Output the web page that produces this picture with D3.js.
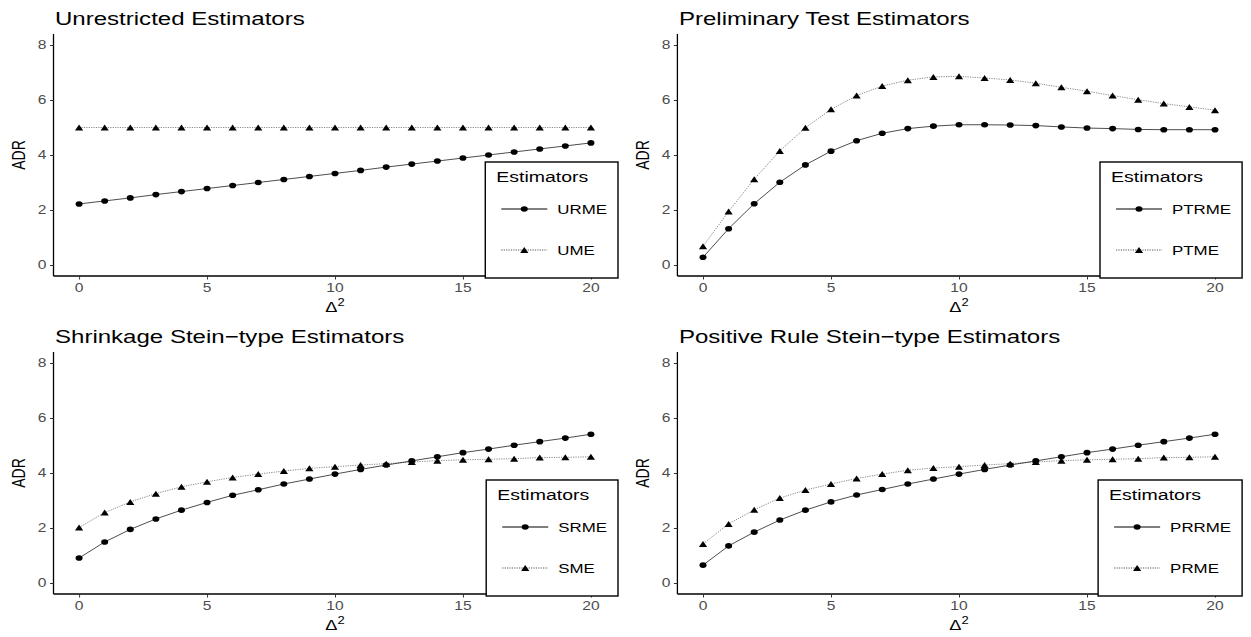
<!DOCTYPE html>
<html>
<head>
<meta charset="utf-8">
<script src="https://cdn.jsdelivr.net/npm/d3@7"></script>
<style>
  body { margin: 0; background: #fff; }
  text { font-family: "Liberation Sans", Arial, Helvetica, sans-serif; }
</style>
</head>
<body>
<svg id="chart" width="1251" height="637"></svg>
<script>
// x values (Delta^2) and axis ticks
var delta = [0, 1, 2, 3, 4, 5, 6, 7, 8, 9, 10, 11, 12, 13, 14, 15, 16, 17, 18, 19, 20];
var xTicks = [0, 5, 10, 15, 20];
var yTicks = [0, 2, 4, 6, 8];

var titles = ['Unrestricted Estimators', 'Preliminary Test Estimators',
              'Shrinkage Stein\u2212type Estimators', 'Positive Rule Stein\u2212type Estimators'];
var seriesNames = [['URME', 'UME'], ['PTRME', 'PTME'], ['SRME', 'SME'], ['PRRME', 'PRME']];

// values
var urme  = [2.22, 2.33, 2.44, 2.56, 2.67, 2.78, 2.89, 3.00, 3.11, 3.22, 3.33, 3.44, 3.56, 3.67, 3.78, 3.89, 4.00, 4.11, 4.22, 4.33, 4.44];
var ume   = [5, 5, 5, 5, 5, 5, 5, 5, 5, 5, 5, 5, 5, 5, 5, 5, 5, 5, 5, 5, 5];
var ptrme = [0.28, 1.32, 2.23, 3.01, 3.64, 4.14, 4.52, 4.79, 4.96, 5.05, 5.10, 5.10, 5.09, 5.07, 5.02, 4.98, 4.96, 4.93, 4.92, 4.92, 4.92];
var ptme  = [0.68, 1.95, 3.12, 4.15, 4.99, 5.66, 6.16, 6.51, 6.72, 6.84, 6.86, 6.80, 6.73, 6.61, 6.46, 6.32, 6.16, 6.01, 5.87, 5.75, 5.63];
var srme  = [0.91, 1.49, 1.95, 2.33, 2.65, 2.93, 3.19, 3.39, 3.60, 3.78, 3.96, 4.13, 4.29, 4.44, 4.59, 4.74, 4.87, 5.01, 5.14, 5.27, 5.41];
var sme   = [2.02, 2.56, 2.95, 3.25, 3.50, 3.68, 3.84, 3.96, 4.07, 4.17, 4.23, 4.29, 4.34, 4.40, 4.45, 4.48, 4.50, 4.52, 4.56, 4.57, 4.59];
var prrme = [0.65, 1.35, 1.85, 2.29, 2.65, 2.95, 3.20, 3.40, 3.60, 3.78, 3.96, 4.13, 4.29, 4.44, 4.59, 4.74, 4.87, 5.01, 5.14, 5.27, 5.41];
var prme  = [1.42, 2.15, 2.66, 3.09, 3.38, 3.60, 3.80, 3.96, 4.10, 4.18, 4.23, 4.29, 4.34, 4.40, 4.45, 4.48, 4.50, 4.52, 4.56, 4.57, 4.59];

var seriesValues = [[urme, ume], [ptrme, ptme], [srme, sme], [prrme, prme]];

var svg = d3.select('#chart');
var SX = 1.3; // the picture is stretched sideways, text too

function place(sel, x, y, extra) {
  return sel.attr('transform', 'translate(' + x + ',' + y + ') scale(' + SX + ',1)' + (extra || ''));
}

var cols = [[53.5, 616.5], [677.4, 1240.6]];
var rows = [[276, 34], [594, 352]];

function triPath(w, h) {
  return 'M0,' + (-h) + 'L' + w + ',' + h + 'L' + (-w) + ',' + h + 'Z';
}

function drawMarker(g, kind, x, y) {
  if (kind == 0) {
    g.append('ellipse').attr('cx', x).attr('cy', y).attr('rx', 3.5).attr('ry', 2.8).attr('fill', '#000');
  } else {
    g.append('path').attr('d', triPath(4.1, 3)).attr('transform', 'translate(' + x + ',' + y + ')').attr('fill', '#000');
  }
}

var lineStyles = [
  { stroke: '#000', width: 0.7, dash: null },
  { stroke: '#555', width: 0.7, dash: '1.2,1.2' }
];

for (var p = 0; p < 4; p++) {
  var cr = cols[p % 2], rr = rows[Math.floor(p / 2)];
  var x = d3.scaleLinear().domain([-1, 21]).range(cr);
  var y = d3.scaleLinear().domain([-0.4, 8.4]).range(rr);
  var g = svg.append('g');

  // title
  place(g.append('text'), cr[0] + 1.5, rr[1] - 9)
    .attr('font-size', 18.5).attr('fill', '#000').text(titles[p]);

  // axes
  var ax = g.append('g').attr('transform', 'translate(0,' + rr[0] + ')')
    .call(d3.axisBottom(x).tickValues(xTicks).tickSize(3.5).tickFormat(''));
  var ay = g.append('g').attr('transform', 'translate(' + cr[0] + ',0)')
    .call(d3.axisLeft(y).tickValues(yTicks).tickSize(3.5).tickFormat(''));
  [ax, ay].forEach(function (a) {
    a.select('.domain').attr('stroke', '#000').attr('stroke-width', 1.3);
    a.selectAll('.tick line').attr('stroke', '#333').attr('stroke-width', 1);
  });
  ax.select('.domain').attr('d', 'M' + cr[0] + ',0H' + cr[1]);
  ay.select('.domain').attr('d', 'M0,' + rr[0] + 'V' + rr[1]);

  xTicks.forEach(function (t) {
    place(g.append('text'), x(t), rr[0] + 15.5)
      .attr('text-anchor', 'middle').attr('font-size', 12).attr('fill', '#4d4d4d').text(t);
  });
  yTicks.forEach(function (t) {
    place(g.append('text'), cr[0] - 7, y(t) + 4.2)
      .attr('text-anchor', 'end').attr('font-size', 12).attr('fill', '#4d4d4d').text(t);
  });

  // axis titles
  var xt = place(g.append('text'), (cr[0] + cr[1]) / 2, rr[0] + 35.5)
    .attr('text-anchor', 'middle').attr('font-size', 14).attr('fill', '#000');
  xt.append('tspan').text('\u0394');
  xt.append('tspan').attr('font-size', 10).attr('dy', -6).text('2');
  place(g.append('text'), cr[0] - 35, (rr[0] + rr[1]) / 2, ' rotate(-90)')
    .attr('text-anchor', 'middle').attr('dy', 5).attr('font-size', 14).attr('fill', '#000').text('ADR');

  // series: second (dotted, triangles) under the first
  for (var s = 1; s >= 0; s--) {
    var vals = seriesValues[p][s];
    var line = d3.line().x(function (d, i) { return x(delta[i]); }).y(function (d) { return y(d); });
    g.append('path').datum(vals).attr('d', line).attr('fill', 'none')
      .attr('stroke', lineStyles[s].stroke).attr('stroke-width', lineStyles[s].width)
      .attr('stroke-dasharray', lineStyles[s].dash);
    for (var i = 0; i < vals.length; i++) drawMarker(g, s, x(delta[i]), y(vals[i]));
  }

  // legend
  var legTop = y(0) - 103, legRight = cr[1] + 1.5;
  var leg = g.append('g');
  var box = leg.append('rect').attr('y', legTop).attr('height', 116)
    .attr('fill', '#fff').attr('stroke', '#000').attr('stroke-width', 1.4);
  var inner = leg.append('g');
  var ttl = place(inner.append('text'), 11, legTop + 19.7).attr('font-size', 15).attr('fill', '#000').text('Estimators');
  var maxLab = 0;
  var labs = [];
  for (var k = 0; k < 2; k++) {
    var ry = legTop + 47 + k * 41;
    inner.append('line').attr('x1', 16).attr('x2', 62).attr('y1', ry).attr('y2', ry)
      .attr('stroke', lineStyles[k].stroke).attr('stroke-width', lineStyles[k].width + 0.3)
      .attr('stroke-dasharray', lineStyles[k].dash);
    drawMarker(inner, k, 39, ry);
    var lt = place(inner.append('text'), 72, ry + 5).attr('font-size', 13).attr('fill', '#000').text(seriesNames[p][k]);
    maxLab = Math.max(maxLab, lt.node().getComputedTextLength() * SX);
  }
  var w = Math.max(72 + maxLab + 11, 11 + ttl.node().getComputedTextLength() * SX + 11);
  var legLeft = legRight - w;
  box.attr('x', legLeft).attr('width', w);
  inner.attr('transform', 'translate(' + legLeft + ',0)');
}
</script>
</body>
</html>
